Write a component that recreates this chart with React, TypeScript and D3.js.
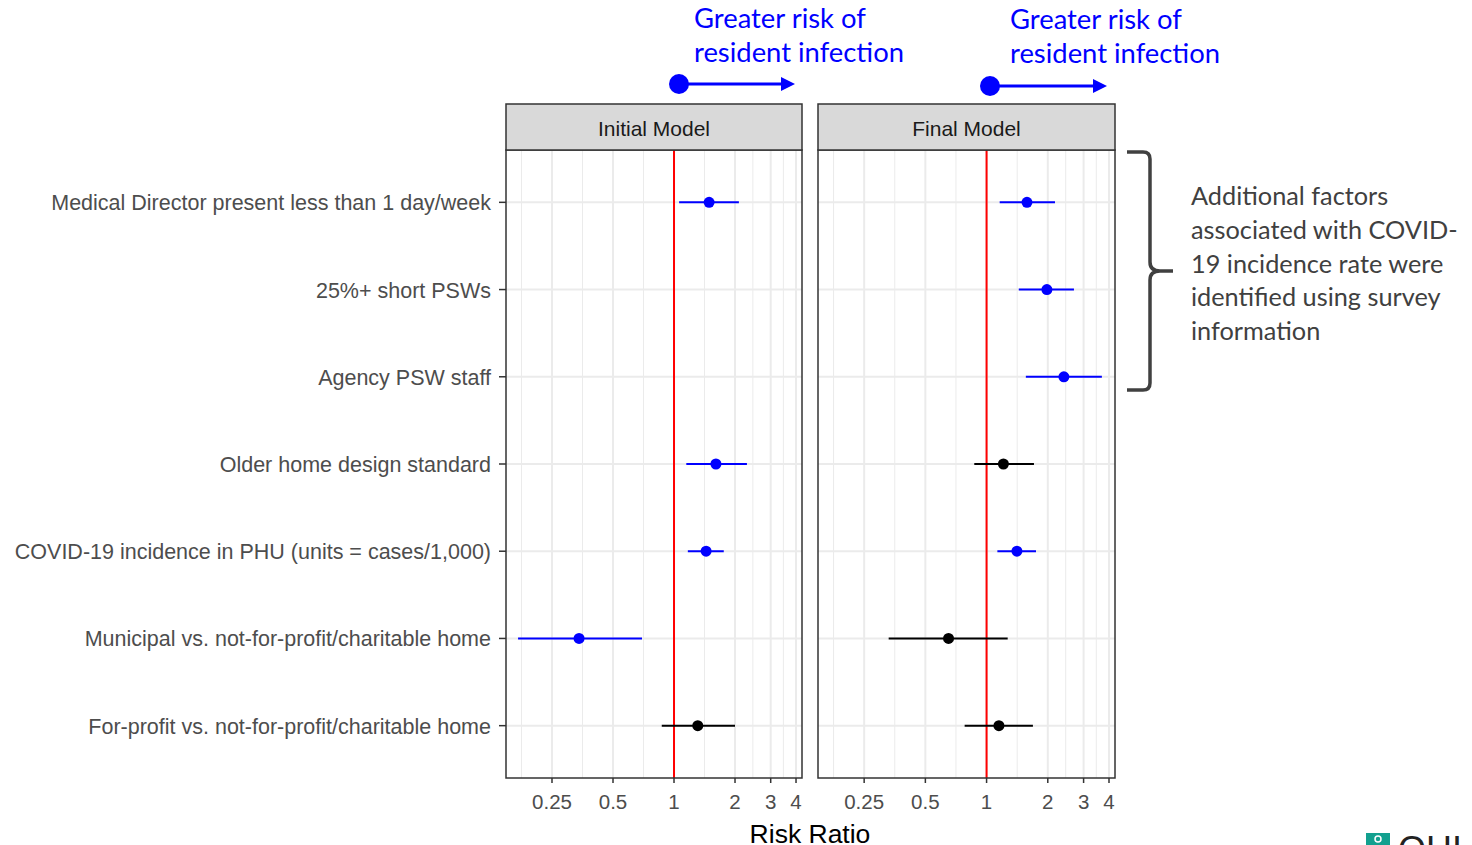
import * as d3 from "d3";
import React from "react";

const FACTORS = [
  "Medical Director present less than 1 day/week",
  "25%+ short PSWs",
  "Agency PSW staff",
  "Older home design standard",
  "COVID-19 incidence in PHU (units = cases/1,000)",
  "Municipal vs. not-for-profit/charitable home",
  "For-profit vs. not-for-profit/charitable home",
];

const PANELS = ["Initial Model", "Final Model"];

// risk ratio estimates with 95% CI, null = not in model
const INITIAL_RR = [1.49, null, null, 1.61, 1.44, 0.34, 1.31];
const INITIAL_LO = [1.06, null, null, 1.15, 1.17, 0.17, 0.87];
const INITIAL_HI = [2.09, null, null, 2.29, 1.76, 0.695, 2.0];
const INITIAL_SIG = [true, false, false, true, true, true, false];

const FINAL_RR = [1.58, 1.98, 2.4, 1.21, 1.41, 0.65, 1.15];
const FINAL_LO = [1.16, 1.44, 1.56, 0.87, 1.13, 0.33, 0.78];
const FINAL_HI = [2.17, 2.69, 3.69, 1.71, 1.75, 1.27, 1.69];
const FINAL_SIG = [true, true, true, false, true, false, false];

const BREAKS = [0.25, 0.5, 1, 2, 3, 4];
const BREAK_LABELS = ["0.25", "0.5", "1", "2", "3", "4"];

const NOTE_LINES = [
  "Additional factors",
  "associated with COVID-",
  "19 incidence rate were",
  "identified using survey",
  "information",
];

const W = 1472;
const H = 845;
const top = 150;
const bottom = 778;
const panelX = [
  [506, 802],
  [818, 1115],
];
const GGFONT = "'Liberation Sans', Arial, sans-serif";
const NOTEFONT = "Lato, 'Open Sans', sans-serif";

type Row = { f: string; rr: number | null; lo: number | null; hi: number | null; sig: boolean };

const rowsFor = (p: number): Row[] =>
  FACTORS.map((f, i) => ({
    f,
    rr: p === 0 ? INITIAL_RR[i] : FINAL_RR[i],
    lo: p === 0 ? INITIAL_LO[i] : FINAL_LO[i],
    hi: p === 0 ? INITIAL_HI[i] : FINAL_HI[i],
    sig: p === 0 ? INITIAL_SIG[i] : FINAL_SIG[i],
  }));

export default function App() {
  const y = d3
    .scalePoint<string>()
    .domain(FACTORS)
    .range([top, bottom])
    .padding(0.6);

  // minor breaks: midpoints (log space) between majors, plus one below
  const lb = BREAKS.map(Math.log);
  const minors = [lb[0] - (lb[1] - lb[0]) / 2];
  for (let i = 0; i < lb.length - 1; i++) minors.push((lb[i] + lb[i + 1]) / 2);

  return (
    <svg
      width={W}
      height={H}
      style={{ position: "absolute", left: 0, top: 0, background: "#fff" }}
    >
      {PANELS.map((name, p) => {
        const [x0, x1] = panelX[p];
        const x = d3
          .scaleLog()
          .domain([Math.pow(2, -2.754), Math.pow(2, 2.098)])
          .range([x0, x1]);
        const rows = rowsFor(p);
        return (
          <g key={name}>
            <rect x={x0} y={top} width={x1 - x0} height={bottom - top} fill="#fff" />
            {minors.map((m, i) => (
              <line
                key={"mn" + i}
                x1={x(Math.exp(m))}
                x2={x(Math.exp(m))}
                y1={top}
                y2={bottom}
                stroke="#ebebeb"
                strokeWidth={1}
              />
            ))}
            {BREAKS.map((b) => (
              <line key={"mj" + b} x1={x(b)} x2={x(b)} y1={top} y2={bottom} stroke="#ebebeb" strokeWidth={2} />
            ))}
            {FACTORS.map((f) => (
              <line key={"h" + f} x1={x0} x2={x1} y1={y(f)} y2={y(f)} stroke="#ebebeb" strokeWidth={2} />
            ))}
            <line x1={x(1)} x2={x(1)} y1={top} y2={bottom} stroke="#ff0000" strokeWidth={2} />
            {rows
              .filter((r) => r.rr != null)
              .map((r) => {
                const c = r.sig ? "#0000ff" : "#000";
                const yy = y(r.f)!;
                return (
                  <g key={"pt" + r.f}>
                    <line x1={x(r.lo!)} x2={x(r.hi!)} y1={yy} y2={yy} stroke={c} strokeWidth={2} />
                    <circle cx={x(r.rr!)} cy={yy} r={5.5} fill={c} />
                  </g>
                );
              })}
            <rect x={x0} y={top} width={x1 - x0} height={bottom - top} fill="none" stroke="#333" strokeWidth={1.5} />
            {/* strip */}
            <rect x={x0} y={104} width={x1 - x0} height={top - 104} fill="#d9d9d9" stroke="#333" strokeWidth={1.5} />
            <text
              x={(x0 + x1) / 2}
              y={135.5}
              textAnchor="middle"
              fontFamily={GGFONT}
              fontSize={21}
              fill="#1a1a1a"
            >
              {name}
            </text>
            {/* x axis */}
            {BREAKS.map((b, i) => (
              <g key={"t" + b}>
                <line x1={x(b)} x2={x(b)} y1={bottom} y2={bottom + 5} stroke="#333" strokeWidth={1.5} />
                <text
                  x={x(b)}
                  y={bottom + 31}
                  textAnchor="middle"
                  fontFamily={GGFONT}
                  fontSize={20.5}
                  fill="#4d4d4d"
                >
                  {BREAK_LABELS[i]}
                </text>
              </g>
            ))}
          </g>
        );
      })}

      {/* y axis */}
      {FACTORS.map((f) => (
        <g key={"yl" + f}>
          <line x1={499} x2={506} y1={y(f)} y2={y(f)} stroke="#333" strokeWidth={1.5} />
          <text
            x={491}
            y={y(f)! + 8}
            textAnchor="end"
            fontFamily={GGFONT}
            fontSize={21.5}
            fill="#4d4d4d"
          >
            {f}
          </text>
        </g>
      ))}

      <text x={810} y={843} textAnchor="middle" fontFamily={GGFONT} fontSize={26.5} fill="#000">
        Risk Ratio
      </text>

      {/* direction annotations */}
      {[
        { tx: 694, ty: 28, cx: 679, cy: 84, ax: 795 },
        { tx: 1010, ty: 29, cx: 990, cy: 86, ax: 1107 },
      ].map((a, i) => (
        <g key={"ann" + i}>
          <text fontFamily={NOTEFONT} fontSize={27.4} fill="#0000ff">
            <tspan x={a.tx} y={a.ty}>Greater risk of</tspan>
            <tspan x={a.tx} y={a.ty + 34}>resident infection</tspan>
          </text>
          <circle cx={a.cx} cy={a.cy} r={10} fill="#0000ff" />
          <line x1={a.cx} x2={a.ax - 12} y1={a.cy} y2={a.cy} stroke="#0000ff" strokeWidth={3} />
          <path d={`M${a.ax - 14},${a.cy - 7}L${a.ax},${a.cy}L${a.ax - 14},${a.cy + 7}Z`} fill="#0000ff" />
        </g>
      ))}

      {/* bracket */}
      <path
        d="M1127,152 L1143,152 Q1150,152 1150,159 L1150,262 Q1150,271 1160,271 L1173,271 L1160,271 Q1150,271 1150,280 L1150,383 Q1150,390 1143,390 L1127,390"
        fill="none"
        stroke="#404040"
        strokeWidth={3.5}
      />
      <text fontFamily={NOTEFONT} fontSize={25.3} fill="#404040">
        {NOTE_LINES.map((l, i) => (
          <tspan key={l} x={1191} y={205 + i * 33.8}>
            {l}
          </tspan>
        ))}
      </text>

      {/* logo fragment */}
      <rect x={1366} y={833} width={24} height={14} fill="#12a08f" />
      <circle cx={1378} cy={839} r={3} fill="none" stroke="#fff" strokeWidth={1.5} />
      <text x={1398} y={862} fontFamily={GGFONT} fontSize={36} fill="#222">
        OHI
      </text>
    </svg>
  );
}
